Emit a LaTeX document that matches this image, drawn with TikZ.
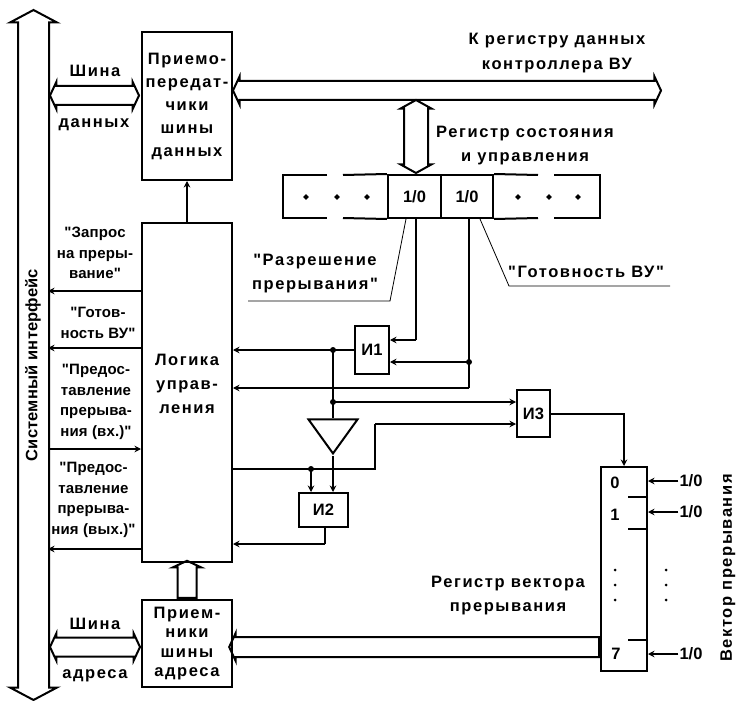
\documentclass[tikz,border=0pt]{standalone}
\usepackage{fontspec}
\setmainfont{Liberation Sans}
\newfontfamily\wideFont{Liberation Sans}[LetterSpace=9.5]
\newfontfamily\tightFont{Liberation Sans}[LetterSpace=1]
\usetikzlibrary{positioning,arrows.meta,shapes.geometric,shapes.arrows,calc}

\begin{document}
\begin{tikzpicture}[
    x=1pt, y=-1pt,
    tip/.style={-{Stealth[length=6.5pt,width=6.5pt]}},
    wire/.style={line width=2pt},
    leader/.style={line width=0.8pt},
    blockBox/.style={rectangle, draw, line width=2pt, inner sep=0pt, align=center, font=\wideFont\bfseries\fontsize{16.5}{23}\selectfont},
    gateBox/.style={rectangle, draw, line width=2pt, inner sep=0pt, font=\bfseries\fontsize{16.5}{18}\selectfont},
    wideText/.style={align=center, inner sep=0pt, font=\wideFont\bfseries\fontsize{16.5}{24}\selectfont},
    smallText/.style={align=center, inner sep=0pt, font=\tightFont\bfseries\fontsize{15}{20.5}\selectfont},
    sideText/.style={rotate=90, inner sep=0pt, font=\wideFont\bfseries\fontsize{16.5}{18}\selectfont},
    numText/.style={inner sep=0pt, font=\bfseries\fontsize{16.5}{18}\selectfont},
    busBoth/.style={double arrow, draw, line width=2pt, inner xsep=0pt, inner ysep=8.5pt, outer sep=0pt, double arrow tip angle=130, double arrow head extend=4pt},
    busOne/.style={single arrow, draw, line width=2pt, inner xsep=0pt, inner ysep=8.5pt, outer sep=0pt, single arrow tip angle=130, single arrow head extend=4pt},
    junction/.style={circle, fill, inner sep=0pt, minimum size=6pt},
    bitMark/.style={diamond, fill, inner sep=0pt, minimum size=6pt}
]
    \useasboundingbox (0,0) rectangle (740,701);

    % system bus at the far left
    \node[busBoth, rotate=90, minimum height=690pt, inner ysep=14.5pt, double arrow tip angle=124, double arrow head extend=8pt] (sysBus) at (33.5,355) {};
    \node[sideText, font=\tightFont\bfseries\fontsize{16.5}{18}\selectfont] (sysLabel) at (33,365) {Системный интерфейс};

    % main blocks
    \node[blockBox, minimum width=90pt, minimum height=148pt] (xcvr) at (187,106) {Приемо-\\передат-\\чики\\шины\\данных};
    \node[rectangle, draw, line width=2pt, inner sep=0pt, minimum width=90pt, minimum height=339pt] (logic) at (187,392.5) {};
    \node[wideText] (logicLabel) at (187,384) {Логика\\управ-\\ления};
    \node[blockBox, minimum width=90pt, minimum height=87pt, font=\wideFont\bfseries\fontsize{16.5}{19.5}\selectfont] (addr) at (187,643.5) {Прием-\\ники\\шины\\адреса};

    % status and control register
    \node[rectangle, draw, line width=2pt, inner sep=0pt, minimum width=53pt, minimum height=43pt, numText] (cellEnable) at (414.5,196.5) {1/0};
    \node[rectangle, draw, line width=2pt, inner sep=0pt, minimum width=52pt, minimum height=43pt, numText] (cellReady) at (467,196.5) {1/0};
    \coordinate (regLeft) at (283,175);
    \coordinate (regRight) at (600,175);
    \draw[wire] (cellEnable.north west) -- (343,175);
    \draw[wire] (327,175) -- (regLeft) -- (283,218) -- (327,218);
    \draw[wire] (343,218) -- (cellEnable.south west);
    \draw[wire] (cellReady.north east) -- (538,175);
    \draw[wire] (554,175) -- (regRight) -- (600,218) -- (554,218);
    \draw[wire] (538,218) -- (cellReady.south east);
    \foreach \x in {306,337,367,518,549,578}
        \node[bitMark] (bit\x) at (\x,197) {};

    % gates
    \node[gateBox, minimum width=34pt, minimum height=48pt] (andOne) at (372,350) {И1};
    \node[gateBox, minimum width=49pt, minimum height=34pt] (andTwo) at (323.5,510) {И2};
    \node[gateBox, minimum width=33pt, minimum height=47pt] (andThree) at (533.5,413.5) {И3};
    \node[isosceles triangle, draw, line width=2pt, inner sep=0pt, shape border rotate=270, isosceles triangle stretches, minimum width=49pt, minimum height=34pt] (driver) at (333,432) {};

    % interrupt vector register
    \node[rectangle, draw, line width=2pt, inner sep=0pt, minimum width=46pt, minimum height=204pt] (vector) at (624,569) {};
    \foreach \y in {497,529,640}
        \draw[wire] (vector.east |- 0,\y) -- (628,\y);
    \node[numText] (vecZero) at (615,483) {0};
    \node[numText] (vecOne) at (615,515) {1};
    \node[numText] (vecSeven) at (616,654) {7};
    \node[numText] (bitZero) at (691,481) {1/0};
    \node[numText] (bitOne) at (691,512) {1/0};
    \node[numText] (bitSeven) at (691,654) {1/0};
    \draw[wire,tip] ([xshift=-1pt]bitZero.west) -- (vector.east |- bitZero);
    \draw[wire,tip] ([xshift=-1pt]bitOne.west) -- (vector.east |- bitOne);
    \draw[wire,tip] ([xshift=-1pt]bitSeven.west) -- (vector.east |- bitSeven);
    \foreach \y in {570,585,600} {
        \fill (615,\y) circle (1.5);
        \fill (666,\y) circle (1.5);
    }
    \node[sideText] (vectorLabel) at (728,568) {Вектор прерывания};

    % hollow buses
    \node[busBoth, minimum height=89pt] (dataLink) at (94.5,95.5) {};
    \node[busBoth, minimum height=428pt, double arrow head extend=4.5pt] (dataBus) at (447,90.5) {};
    \node[busBoth, rotate=90, minimum height=73pt, inner ysep=11pt, double arrow tip angle=122, double arrow head extend=3.5pt] (regLink) at (416,136.5) {};
    \node[busBoth, minimum height=90pt] (addrLink) at (95,647) {};
    \node[busOne, rotate=180, minimum height=370pt, inner ysep=9pt] (vecBus) at (416.5,647) {};
    \node[busOne, rotate=90, minimum height=37pt, single arrow head extend=4.5pt] (addrUp) at (187,581.5) {};

    % wires at the system bus
    \coordinate (busReq) at (48,291);
    \coordinate (busRdy) at (48,348);
    \coordinate (busIn) at (48,449);
    \coordinate (busOut) at (48,549);
    \draw[wire,tip] (logic.west |- busReq) -- (busReq);
    \draw[wire,tip] (logic.west |- busRdy) -- (busRdy);
    \draw[wire,tip] (busIn) -- (logic.west |- busIn);
    \draw[wire,tip] (logic.west |- busOut) -- (busOut);
    \draw[wire,tip] (logic.north) -- (xcvr.south);

    % control logic wires
    \node[junction] (jnTop) at (333,350) {};
    \node[junction] (jnMid) at (333,402) {};
    \node[junction] (jnReady) at (469,362) {};
    \node[junction] (jnLow) at (311,469) {};
    \coordinate (riseFoot) at (375,469);
    \coordinate (riseTop) at (375,424);
    \coordinate (enableTurn) at (416,340);
    \coordinate (readyTurn) at (469,388);
    \coordinate (andTwoTurn) at (325,544);

    \draw[wire,tip] (andOne.west) -- (logic.east |- andOne.west);
    \draw[wire] (jnTop.center) -- (driver.lower side);
    \draw[wire,tip] (jnMid.center) -- (andThree.west |- jnMid);
    \draw[wire] ([xshift=1.5pt]cellEnable.south) -- (enableTurn);
    \draw[wire,tip] (enableTurn) -- (andOne.east |- enableTurn);
    \draw[wire] ([xshift=2pt]cellReady.south) -- (readyTurn);
    \draw[wire,tip] (jnReady.center) -- (andOne.east |- jnReady);
    \draw[wire,tip] (readyTurn) -- (logic.east |- readyTurn);
    \draw[wire] (logic.east |- riseFoot) -- (riseFoot) -- (riseTop);
    \draw[wire,tip] (riseTop) -- (andThree.west |- riseTop);
    \draw[wire,tip] (driver.apex) -- (andTwo.north -| driver.apex);
    \draw[wire,tip] (jnLow.center) -- (andTwo.north -| jnLow);
    \draw[wire] (andTwo.south -| andTwoTurn) -- (andTwoTurn);
    \draw[wire,tip] (andTwoTurn) -- (logic.east |- andTwoTurn);
    \draw[wire,tip] (andThree.east) -| (vector.north);

    % leader lines
    \coordinate (enableKnee) at (390,301);
    \coordinate (enableEnd) at (248,301);
    \coordinate (readyKnee) at (509,286);
    \coordinate (readyEnd) at (670,286);
    \draw[leader] ([xshift=-8.5pt]cellEnable.south) -- (enableKnee) -- (enableEnd);
    \draw[leader] ([xshift=13pt]cellReady.south) -- (readyKnee) -- (readyEnd);

    % labels
    \node[wideText] (dataTop) at (95,71) {Шина};
    \node[wideText] (dataBottom) at (94,125) {данных};
    \node[wideText] (addrTop) at (95,624) {Шина};
    \node[wideText] (addrBottom) at (95,676) {адреса};
    \node[wideText] (busLabel) at (557,53.5) {К регистру данных\\[1pt]контроллера ВУ};
    \node[wideText] (regLabel) at (525,145.5) {Регистр состояния\\и управления};
    \node[wideText] (enableLabel) at (315,274) {"Разрешение\\прерывания"};
    \node[wideText] (readyLabel) at (586,272) {"Готовность ВУ"};
    \node[wideText] (vecLabel) at (508,595.5) {Регистр вектора\\прерывания};
    \node[smallText] (reqLabel) at (95,253) {"Запрос\\на преры-\\вание"};
    \node[smallText] (rdyLabel) at (98,323) {"Готов-\\ность ВУ"};
    \node[smallText] (inLabel) at (96,402) {"Предос-\\тавление\\прерыва-\\ния (вх.)"};
    \node[smallText] (outLabel) at (93.5,500) {"Предос-\\тавление\\прерыва-\\ния (вых.)"};
\end{tikzpicture}
\end{document}
